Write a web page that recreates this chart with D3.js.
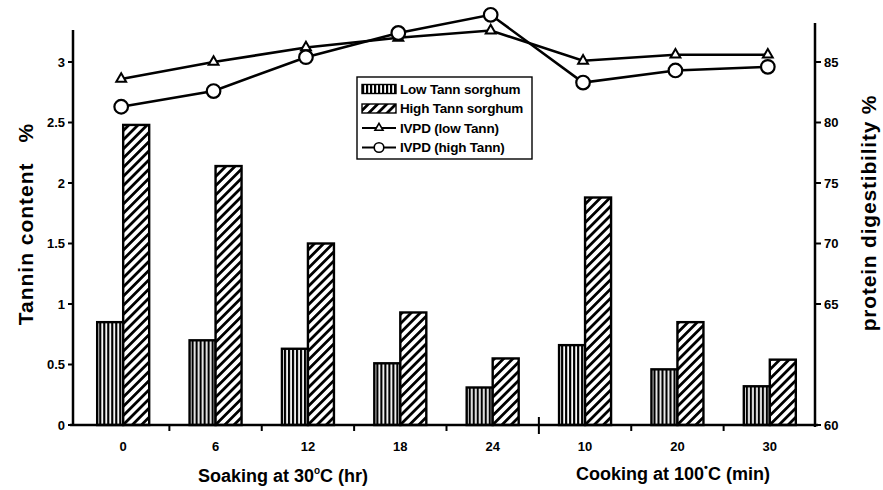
<!DOCTYPE html>
<html>
<head>
<meta charset="utf-8">
<script src="https://cdn.jsdelivr.net/npm/d3@7"></script>
<style>
  body { margin: 0; background: #fff; }
  svg { display: block; }
  text { font-family: Arial, "Liberation Sans", sans-serif; font-weight: bold; fill: #000; }
</style>
</head>
<body>
<svg id="chart"></svg>
<script>
const width = 883;
const height = 490;

// data
const categories = ["0", "6", "12", "18", "24", "10", "20", "30"];
const lowTann = [0.85, 0.70, 0.63, 0.51, 0.31, 0.66, 0.46, 0.32];
const highTann = [2.48, 2.14, 1.50, 0.93, 0.55, 1.88, 0.85, 0.54];
const ivpdLow = [83.6, 85.0, 86.2, 87.0, 87.6, 85.1, 85.6, 85.6];
const ivpdHigh = [81.3, 82.6, 85.4, 87.4, 88.9, 83.3, 84.3, 84.6];
const leftTicks = [0, 0.5, 1, 1.5, 2, 2.5, 3];
const rightTicks = [60, 65, 70, 75, 80, 85];
const legendLabels = ["Low Tann sorghum", "High Tann sorghum", "IVPD (low Tann)", "IVPD (high Tann)"];

const svg = d3.select("#chart")
  .attr("width", width)
  .attr("height", height);

const defs = svg.append("defs");

// vertical stripes for low tannin bars
const pv = defs.append("pattern")
  .attr("id", "vstripe")
  .attr("patternUnits", "userSpaceOnUse")
  .attr("width", 4).attr("height", 4);
pv.append("rect").attr("width", 4).attr("height", 4).attr("fill", "#fff");
pv.append("rect").attr("width", 2.2).attr("height", 4).attr("fill", "#000");

// diagonal hatch for high tannin bars
const pd = defs.append("pattern")
  .attr("id", "dhatch")
  .attr("patternUnits", "userSpaceOnUse")
  .attr("width", 6.5).attr("height", 6.5)
  .attr("patternTransform", "rotate(45)");
pd.append("rect").attr("width", 6.5).attr("height", 6.5).attr("fill", "#fff");
pd.append("rect").attr("width", 2.8).attr("height", 6.5).attr("fill", "#000");

const x = d3.scaleBand()
  .domain(categories.map((d, i) => i))
  .range([77, 816]);

const yL = d3.scaleLinear().domain([0, 3]).range([425, 62]);
// the right axis in the figure is not linear below 65
const yR = d3.scaleLinear().domain([60, 65, 85]).range([yL(0), yL(1), yL(3)]);

const barW = 26;

// bars
const groups = svg.append("g").selectAll("g.bar")
  .data(categories)
  .join("g")
  .attr("class", "bar")
  .attr("transform", (d, i) => `translate(${x(i) + x.bandwidth() / 2},0)`);

groups.append("rect")
  .attr("x", -barW)
  .attr("y", (d, i) => yL(lowTann[i]))
  .attr("width", barW)
  .attr("height", (d, i) => yL(0) - yL(lowTann[i]))
  .attr("fill", "url(#vstripe)")
  .attr("stroke", "#000")
  .attr("stroke-width", 2.4);

groups.append("rect")
  .attr("x", 0)
  .attr("y", (d, i) => yL(highTann[i]))
  .attr("width", barW)
  .attr("height", (d, i) => yL(0) - yL(highTann[i]))
  .attr("fill", "url(#dhatch)")
  .attr("stroke", "#000")
  .attr("stroke-width", 2.4);

// axes
svg.append("line")
  .attr("x1", 73).attr("x2", 73).attr("y1", 30).attr("y2", yL(0))
  .attr("stroke", "#000").attr("stroke-width", 2.5);
svg.append("line")
  .attr("x1", 815).attr("x2", 815).attr("y1", 23).attr("y2", yL(0) + 2)
  .attr("stroke", "#000").attr("stroke-width", 2.5);
svg.append("line")
  .attr("x1", 70).attr("x2", 818).attr("y1", yL(0)).attr("y2", yL(0))
  .attr("stroke", "#000").attr("stroke-width", 2.5);

const leftAxis = svg.append("g");
leftAxis.selectAll("line")
  .data(leftTicks)
  .join("line")
  .attr("x1", 68).attr("x2", 73)
  .attr("y1", d => yL(d)).attr("y2", d => yL(d))
  .attr("stroke", "#000").attr("stroke-width", 2);
leftAxis.selectAll("text")
  .data(leftTicks)
  .join("text")
  .attr("x", 65)
  .attr("y", d => yL(d))
  .attr("dy", "0.36em")
  .attr("text-anchor", "end")
  .attr("font-size", 13)
  .text(d => d);

const rightAxis = svg.append("g");
rightAxis.selectAll("line")
  .data(rightTicks)
  .join("line")
  .attr("x1", 815).attr("x2", 821)
  .attr("y1", d => yR(d)).attr("y2", d => yR(d))
  .attr("stroke", "#000").attr("stroke-width", 2);
rightAxis.selectAll("text")
  .data(rightTicks)
  .join("text")
  .attr("x", 824)
  .attr("y", d => yR(d))
  .attr("dy", "0.36em")
  .attr("font-size", 13)
  .text(d => d);

// category boundary ticks
const bounds = d3.range(1, categories.length).map(i => x(i));
svg.append("g").selectAll("line")
  .data(bounds)
  .join("line")
  .attr("x1", d => d).attr("x2", d => d)
  .attr("y1", (d, i) => i === 4 ? yL(0) - 8 : yL(0))
  .attr("y2", (d, i) => i === 4 ? yL(0) + 9 : yL(0) + 6)
  .attr("stroke", "#000").attr("stroke-width", 2);

svg.append("g").selectAll("text")
  .data(categories)
  .join("text")
  .attr("x", (d, i) => x(i) + x.bandwidth() / 2)
  .attr("y", 451)
  .attr("text-anchor", "middle")
  .attr("font-size", 13)
  .text(d => d);

// IVPD lines
const cx = i => x(i) + x.bandwidth() / 2 - 2;
const line = d3.line()
  .x((d, i) => cx(i))
  .y(d => yR(d));

svg.append("path")
  .datum(ivpdLow)
  .attr("d", line)
  .attr("fill", "none").attr("stroke", "#000").attr("stroke-width", 2.6);
svg.append("path")
  .datum(ivpdHigh)
  .attr("d", line)
  .attr("fill", "none").attr("stroke", "#000").attr("stroke-width", 2.6);

const tri = d3.symbol().type(d3.symbolTriangle).size(42);
svg.append("g").selectAll("path")
  .data(ivpdLow)
  .join("path")
  .attr("transform", (d, i) => `translate(${cx(i)},${yR(d)})`)
  .attr("d", tri)
  .attr("fill", "#fff").attr("stroke", "#000").attr("stroke-width", 2);

svg.append("g").selectAll("circle")
  .data(ivpdHigh)
  .join("circle")
  .attr("cx", (d, i) => cx(i))
  .attr("cy", d => yR(d))
  .attr("r", 6.8)
  .attr("fill", "#fff").attr("stroke", "#000").attr("stroke-width", 2.2);

// axis titles
const lt = svg.append("text")
  .attr("transform", "translate(33,224) rotate(-90)")
  .attr("text-anchor", "middle")
  .attr("font-size", 21)
  .attr("letter-spacing", 1);
lt.append("tspan").text("Tannin content");
lt.append("tspan").attr("dx", 20).text("%");

svg.append("text")
  .attr("transform", "translate(876,213) rotate(-90)")
  .attr("text-anchor", "middle")
  .attr("font-size", 21)
  .attr("letter-spacing", 0.8)
  .text("protein digestibility %");

const t1 = svg.append("text")
  .attr("x", 283).attr("y", 482)
  .attr("text-anchor", "middle")
  .attr("font-size", 18);
t1.append("tspan").text("Soaking at 30");
t1.append("tspan").attr("dy", -8).attr("font-size", 10).text("o");
t1.append("tspan").attr("dy", 8).text("C (hr)");

const t2 = svg.append("text")
  .attr("x", 673).attr("y", 480)
  .attr("text-anchor", "middle")
  .attr("font-size", 18);
t2.append("tspan").text("Cooking at 100");
t2.append("tspan").attr("dy", -9).attr("font-size", 11).text("•");
t2.append("tspan").attr("dy", 9).text("C (min)");

// legend
const legend = svg.append("g").attr("transform", "translate(357,77)");
legend.append("rect")
  .attr("width", 175).attr("height", 82)
  .attr("fill", "#fff").attr("stroke", "#000").attr("stroke-width", 1.4);

const rows = legend.selectAll("g.row")
  .data(legendLabels)
  .join("g")
  .attr("class", "row")
  .attr("transform", (d, i) => `translate(5,${12 + i * 19.5})`);

rows.filter((d, i) => i === 0).append("rect")
  .attr("x", 0).attr("y", -4.5).attr("width", 34).attr("height", 9)
  .attr("fill", "url(#vstripe)").attr("stroke", "#000").attr("stroke-width", 1.4);
rows.filter((d, i) => i === 1).append("rect")
  .attr("x", 0).attr("y", -4.5).attr("width", 34).attr("height", 9)
  .attr("fill", "url(#dhatch)").attr("stroke", "#000").attr("stroke-width", 1.4);
rows.filter((d, i) => i >= 2).append("line")
  .attr("x1", 0).attr("x2", 34)
  .attr("stroke", "#000").attr("stroke-width", 2);
rows.filter((d, i) => i === 2).append("path")
  .attr("transform", "translate(17,0)")
  .attr("d", d3.symbol().type(d3.symbolTriangle).size(28))
  .attr("fill", "#fff").attr("stroke", "#000").attr("stroke-width", 1.6);
rows.filter((d, i) => i === 3).append("circle")
  .attr("cx", 17).attr("r", 4.8)
  .attr("fill", "#fff").attr("stroke", "#000").attr("stroke-width", 1.6);

rows.append("text")
  .attr("x", 38)
  .attr("dy", "0.36em")
  .attr("font-size", 13.5)
  .attr("letter-spacing", -0.2)
  .text(d => d);
</script>
</body>
</html>
